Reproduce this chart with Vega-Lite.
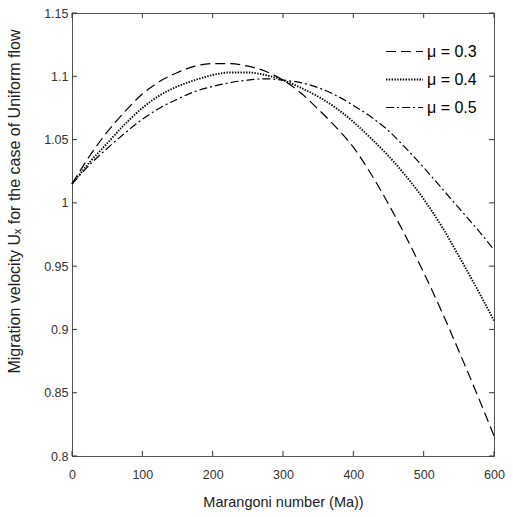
{
  "$schema": "https://vega.github.io/schema/vega-lite/v6.json",
  "autosize": "none",
  "width": 422,
  "height": 443,
  "padding": {"left": 72, "top": 13, "right": 19, "bottom": 61},
  "background": "white",
  "config": {
    "view": {"stroke": "#555", "strokeWidth": 1},
    "font": "Liberation Sans",
    "axis": {
      "domainColor": "#555", "labelColor": "#333", "titleColor": "#222", "labelFlush": false,
      "grid": false, "ticks": false, "labelFont": "Liberation Sans", "titleFont": "Liberation Sans",
      "labelFontSize": 12.5, "titleFontSize": 14.5, "titleFontWeight": "normal"
    }
  },
  "datasets": {
    "curves": [
    {"Ma": 0, "U": 1.015, "mu": "μ = 0.3"}, {"Ma": 25, "U": 1.037, "mu": "μ = 0.3"}, {"Ma": 50, "U": 1.056, "mu": "μ = 0.3"},
    {"Ma": 75, "U": 1.072, "mu": "μ = 0.3"}, {"Ma": 100, "U": 1.086, "mu": "μ = 0.3"}, {"Ma": 125, "U": 1.096, "mu": "μ = 0.3"},
    {"Ma": 150, "U": 1.103, "mu": "μ = 0.3"}, {"Ma": 175, "U": 1.108, "mu": "μ = 0.3"}, {"Ma": 200, "U": 1.110, "mu": "μ = 0.3"},
    {"Ma": 225, "U": 1.110, "mu": "μ = 0.3"}, {"Ma": 250, "U": 1.108, "mu": "μ = 0.3"}, {"Ma": 275, "U": 1.104, "mu": "μ = 0.3"},
    {"Ma": 300, "U": 1.097, "mu": "μ = 0.3"}, {"Ma": 325, "U": 1.087, "mu": "μ = 0.3"}, {"Ma": 350, "U": 1.074, "mu": "μ = 0.3"},
    {"Ma": 375, "U": 1.060, "mu": "μ = 0.3"}, {"Ma": 400, "U": 1.044, "mu": "μ = 0.3"}, {"Ma": 425, "U": 1.023, "mu": "μ = 0.3"},
    {"Ma": 450, "U": 0.999, "mu": "μ = 0.3"}, {"Ma": 475, "U": 0.973, "mu": "μ = 0.3"}, {"Ma": 500, "U": 0.945, "mu": "μ = 0.3"},
    {"Ma": 525, "U": 0.915, "mu": "μ = 0.3"}, {"Ma": 550, "U": 0.883, "mu": "μ = 0.3"}, {"Ma": 575, "U": 0.850, "mu": "μ = 0.3"},
    {"Ma": 600, "U": 0.816, "mu": "μ = 0.3"},
    {"Ma": 0, "U": 1.015, "mu": "μ = 0.4"}, {"Ma": 25, "U": 1.032, "mu": "μ = 0.4"}, {"Ma": 50, "U": 1.047, "mu": "μ = 0.4"},
    {"Ma": 75, "U": 1.062, "mu": "μ = 0.4"}, {"Ma": 100, "U": 1.075, "mu": "μ = 0.4"}, {"Ma": 125, "U": 1.085, "mu": "μ = 0.4"},
    {"Ma": 150, "U": 1.092, "mu": "μ = 0.4"}, {"Ma": 175, "U": 1.097, "mu": "μ = 0.4"}, {"Ma": 200, "U": 1.101, "mu": "μ = 0.4"},
    {"Ma": 225, "U": 1.103, "mu": "μ = 0.4"}, {"Ma": 250, "U": 1.103, "mu": "μ = 0.4"}, {"Ma": 275, "U": 1.101, "mu": "μ = 0.4"},
    {"Ma": 300, "U": 1.097, "mu": "μ = 0.4"}, {"Ma": 325, "U": 1.091, "mu": "μ = 0.4"}, {"Ma": 350, "U": 1.084, "mu": "μ = 0.4"},
    {"Ma": 375, "U": 1.075, "mu": "μ = 0.4"}, {"Ma": 400, "U": 1.064, "mu": "μ = 0.4"}, {"Ma": 425, "U": 1.051, "mu": "μ = 0.4"},
    {"Ma": 450, "U": 1.037, "mu": "μ = 0.4"}, {"Ma": 475, "U": 1.021, "mu": "μ = 0.4"}, {"Ma": 500, "U": 1.003, "mu": "μ = 0.4"},
    {"Ma": 525, "U": 0.982, "mu": "μ = 0.4"}, {"Ma": 550, "U": 0.958, "mu": "μ = 0.4"}, {"Ma": 575, "U": 0.933, "mu": "μ = 0.4"},
    {"Ma": 600, "U": 0.907, "mu": "μ = 0.4"},
    {"Ma": 0, "U": 1.015, "mu": "μ = 0.5"}, {"Ma": 25, "U": 1.030, "mu": "μ = 0.5"}, {"Ma": 50, "U": 1.043, "mu": "μ = 0.5"},
    {"Ma": 75, "U": 1.055, "mu": "μ = 0.5"}, {"Ma": 100, "U": 1.066, "mu": "μ = 0.5"}, {"Ma": 125, "U": 1.075, "mu": "μ = 0.5"},
    {"Ma": 150, "U": 1.082, "mu": "μ = 0.5"}, {"Ma": 175, "U": 1.088, "mu": "μ = 0.5"}, {"Ma": 200, "U": 1.092, "mu": "μ = 0.5"},
    {"Ma": 225, "U": 1.095, "mu": "μ = 0.5"}, {"Ma": 250, "U": 1.097, "mu": "μ = 0.5"}, {"Ma": 275, "U": 1.098, "mu": "μ = 0.5"},
    {"Ma": 300, "U": 1.097, "mu": "μ = 0.5"}, {"Ma": 325, "U": 1.095, "mu": "μ = 0.5"}, {"Ma": 350, "U": 1.091, "mu": "μ = 0.5"},
    {"Ma": 375, "U": 1.085, "mu": "μ = 0.5"}, {"Ma": 400, "U": 1.077, "mu": "μ = 0.5"}, {"Ma": 425, "U": 1.068, "mu": "μ = 0.5"},
    {"Ma": 450, "U": 1.057, "mu": "μ = 0.5"}, {"Ma": 475, "U": 1.043, "mu": "μ = 0.5"}, {"Ma": 500, "U": 1.028, "mu": "μ = 0.5"},
    {"Ma": 525, "U": 1.012, "mu": "μ = 0.5"}, {"Ma": 550, "U": 0.996, "mu": "μ = 0.5"}, {"Ma": 575, "U": 0.980, "mu": "μ = 0.5"},
    {"Ma": 600, "U": 0.963, "mu": "μ = 0.5"}
  ]},
  "layer": [
    {
      "data": {"name": "curves"},
      "mark": {"type": "line", "interpolate": "monotone", "color": "black"},
      "encoding": {
        "x": {"field": "Ma", "type": "quantitative", "scale": {"domain": [0, 600], "nice": false},
              "axis": {"values": [0, 100, 200, 300, 400, 500, 600], "title": "Marangoni number (Ma))", "labelPadding": 12, "titlePadding": 15}},
        "y": {"field": "U", "type": "quantitative", "scale": {"domain": [0.8, 1.15], "nice": false, "zero": false},
              "axis": {"values": [0.8, 0.85, 0.9, 0.95, 1, 1.05, 1.1, 1.15], "format": "~g", "title": "Migration velocity Uₓ for the case of Uniform flow", "titleFontSize": 16, "titleY": 188, "labelPadding": 4, "titlePadding": 21}},
        "strokeDash": {"field": "mu", "type": "nominal",
          "scale": {"domain": ["μ = 0.3", "μ = 0.4", "μ = 0.5"], "range": [[10, 5], [1.4, 1.4], [8, 3, 2, 3]]},
          "legend": {"title": null, "orient": "none", "legendX": 313, "legendY": 19, "symbolType": "stroke", "symbolSize": 1369,
                     "symbolStrokeColor": "black", "labelFontSize": 16, "labelColor": "black",
                     "labelFont": "Liberation Sans", "labelOffset": 3, "rowPadding": -11}},
        "strokeWidth": {"field": "mu", "type": "nominal",
          "scale": {"type": "ordinal", "domain": ["μ = 0.3", "μ = 0.4", "μ = 0.5"], "range": [1.2, 1.9, 1.2]}, "legend": null}
      }
    },
    {
      "data": {"values": [{"v": 0}, {"v": 100}, {"v": 200}, {"v": 300}, {"v": 400}, {"v": 500}, {"v": 600}]},
      "mark": {"type": "rule", "color": "#333", "strokeWidth": 1},
      "encoding": {"x": {"field": "v", "type": "quantitative"}, "y": {"datum": 0.8, "type": "quantitative"}, "y2": {"datum": 0.804}}
    },
    {
      "data": {"values": [{"v": 0}, {"v": 100}, {"v": 200}, {"v": 300}, {"v": 400}, {"v": 500}, {"v": 600}]},
      "mark": {"type": "rule", "color": "#333", "strokeWidth": 1},
      "encoding": {"x": {"field": "v", "type": "quantitative"}, "y": {"datum": 1.15, "type": "quantitative"}, "y2": {"datum": 1.146}}
    },
    {
      "data": {"values": [{"v": 0.8}, {"v": 0.85}, {"v": 0.9}, {"v": 0.95}, {"v": 1}, {"v": 1.05}, {"v": 1.1}, {"v": 1.15}]},
      "mark": {"type": "rule", "color": "#333", "strokeWidth": 1},
      "encoding": {"y": {"field": "v", "type": "quantitative"}, "x": {"datum": 0, "type": "quantitative"}, "x2": {"datum": 7}}
    },
    {
      "data": {"values": [{"v": 0.8}, {"v": 0.85}, {"v": 0.9}, {"v": 0.95}, {"v": 1}, {"v": 1.05}, {"v": 1.1}, {"v": 1.15}]},
      "mark": {"type": "rule", "color": "#333", "strokeWidth": 1},
      "encoding": {"y": {"field": "v", "type": "quantitative"}, "x": {"datum": 600, "type": "quantitative"}, "x2": {"datum": 593}}
    }
  ]
}
